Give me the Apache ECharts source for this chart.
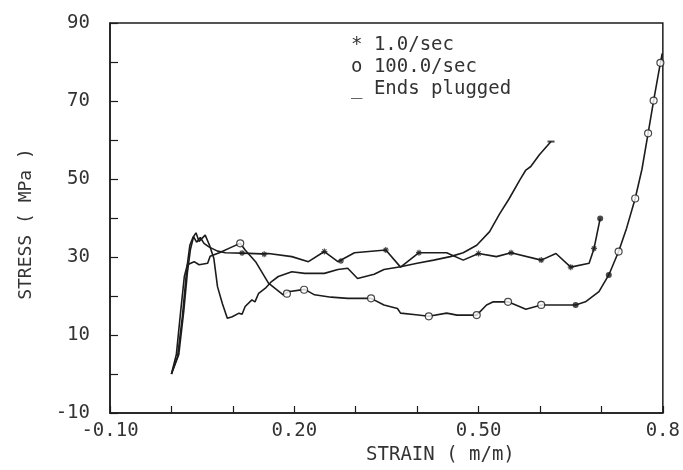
<!DOCTYPE html>
<html>
<head>
<meta charset="utf-8">
<script src="https://cdn.jsdelivr.net/npm/echarts@6/dist/echarts.min.js"></script>
<style>html,body{margin:0;padding:0;background:#fff;}#chart{width:683px;height:470px;}</style>
</head>
<body>
<div id="chart"></div>
<script>
// ---- data (strain m/m, stress MPa) ----
var seriesNames = ['1.0/sec', '100.0/sec', 'Ends plugged'];
var legendSymbols = ['*', 'o', '_'];
var xLabelValues = [-0.1, 0.2, 0.5, 0.8];
var xLabelTexts = ['-0.10', '0.20', '0.50', '0.8'];
var yLabelValues = [-10, 10, 30, 50, 70, 90];

var rate1 = [[0,0],[0.012,5],[0.02,16],[0.026,26],[0.031,32],[0.036,35.2],[0.041,33.8],[0.047,35],[0.053,33.5],[0.061,32.6],[0.075,31.5],[0.088,31.1],[0.115,31],[0.147,30.8],[0.158,30.9],[0.196,30.1],[0.223,28.8],[0.249,31.4],[0.271,28.8],[0.298,31.1],[0.349,31.8],[0.373,27.4],[0.403,31.1],[0.448,31.1],[0.475,29.2],[0.5,30.9],[0.529,30.1],[0.553,31.1],[0.602,29.2],[0.626,30.9],[0.65,27.4],[0.68,28.4],[0.688,32.2],[0.698,39.9]];
var rate100 = [[0,0],[0.008,5],[0.015,16],[0.021,25],[0.026,28],[0.037,28.8],[0.045,28],[0.059,28.4],[0.063,30.2],[0.077,31],[0.099,32.6],[0.112,33.5],[0.12,31.8],[0.137,28.8],[0.158,23.3],[0.182,20.3],[0.19,21.1],[0.217,21.7],[0.233,20.3],[0.26,19.7],[0.287,19.4],[0.325,19.4],[0.346,17.7],[0.368,16.8],[0.373,15.6],[0.398,15.2],[0.419,14.8],[0.448,15.6],[0.465,15.1],[0.497,15.1],[0.513,17.7],[0.524,18.5],[0.548,18.5],[0.577,16.6],[0.602,17.7],[0.658,17.7],[0.674,18.5],[0.696,21.1],[0.712,25.4],[0.728,31.4],[0.741,37.4],[0.755,45],[0.766,52.5],[0.776,61.7],[0.785,70.1],[0.796,79.8],[0.799,82.2]];
var plugged = [[0,0],[0.01,4.5],[0.018,15],[0.025,27],[0.03,33],[0.035,35],[0.04,36.2],[0.045,34],[0.055,35.6],[0.062,33],[0.069,29.7],[0.075,22.4],[0.083,18],[0.091,14.3],[0.099,14.7],[0.11,15.6],[0.115,15.3],[0.12,17.3],[0.131,19],[0.136,18.5],[0.142,20.7],[0.153,22],[0.163,23.7],[0.174,25],[0.196,26.2],[0.217,25.8],[0.233,25.8],[0.249,25.8],[0.271,26.8],[0.287,27.1],[0.303,24.5],[0.33,25.6],[0.346,26.8],[0.373,27.5],[0.4,28.4],[0.427,29.2],[0.454,30.1],[0.475,31.1],[0.497,33],[0.518,36.5],[0.534,41],[0.55,45],[0.567,49.7],[0.577,52.3],[0.585,53.2],[0.599,56.2],[0.618,59.6]];

var rate1Marks = [[0.115,31],[0.151,30.7],[0.249,31.4],[0.276,29],[0.349,31.8],[0.403,31.1],[0.5,30.9],[0.553,31.1],[0.602,29.2],[0.65,27.4],[0.688,32.2]];
var rate1EndMarks = [[0.698,39.9]];
var rate100Marks = [[0.112,33.5],[0.188,20.6],[0.216,21.6],[0.325,19.4],[0.419,14.8],[0.497,15.1],[0.548,18.5],[0.602,17.7],[0.728,31.4],[0.755,45],[0.776,61.7],[0.785,70.1],[0.796,79.8]];
var rate100FilledMarks = [[0.658,17.7],[0.712,25.4]];
var pluggedMarks = [[0.618,59.6]];

// ---- chart ----
var FONT = 'DejaVu Sans Mono';
var TXT = '#333';
var INK = '#1c1c1c';
var chart = echarts.init(document.getElementById('chart'), null, {renderer: 'canvas'});

function lineSeries(name, data) {
  return {name: name, type: 'line', data: data, showSymbol: false, symbol: 'none',
    lineStyle: {color: INK, width: 1.6}, itemStyle: {color: INK}, animation: false, z: 3};
}
function markSeries(name, data, symbol, size, filled) {
  return {name: name, type: 'scatter', data: data, symbol: symbol, symbolSize: size,
    itemStyle: filled ? {color: INK} : {color: '#fff', borderColor: INK, borderWidth: 1.2},
    animation: false, z: 4, silent: true};
}
var starPath = 'path://M5,0L5,10M0,5L10,5M1.5,1.5L8.5,8.5M8.5,1.5L1.5,8.5';

chart.setOption({
  backgroundColor: '#fff',
  animation: false,
  grid: {left: 110, right: 15, top: 23, bottom: 57, show: true, borderColor: INK, borderWidth: 1.5},
  legend: {
    data: seriesNames, orient: 'vertical', left: 340, top: 29, itemGap: 0,
    itemWidth: 0, itemHeight: 0, selectedMode: false,
    formatter: function (n) { return legendSymbols[seriesNames.indexOf(n)] + ' ' + n; },
    textStyle: {fontFamily: FONT, fontSize: 19, color: TXT, lineHeight: 22}
  },
  xAxis: {
    type: 'value', min: -0.1, max: 0.8, interval: 0.1,
    name: 'STRAIN ( m/m)', nameLocation: 'middle', nameGap: 32,
    nameTextStyle: {fontFamily: FONT, fontSize: 19, color: TXT, padding: [0, 0, 0, 108]},
    axisLine: {show: true, onZero: false, lineStyle: {color: INK, width: 1.5}},
    axisTick: {show: true, inside: true, length: 7, lineStyle: {color: INK, width: 1.2}},
    axisLabel: {margin: 9, fontFamily: FONT, fontSize: 19, color: TXT, showMinLabel: true, showMaxLabel: true,
      formatter: function (v) {
        for (var i = 0; i < xLabelValues.length; i++) if (Math.abs(v - xLabelValues[i]) < 1e-6) return xLabelTexts[i];
        return '';
      }},
    splitLine: {show: false}
  },
  yAxis: {
    type: 'value', min: -10, max: 90, interval: 10,
    name: 'STRESS ( MPa )', nameLocation: 'middle', nameGap: 75, nameRotate: 90,
    nameTextStyle: {fontFamily: FONT, fontSize: 18, color: TXT, padding: [0, 12, 0, 0]},
    axisLine: {show: true, onZero: false, lineStyle: {color: INK, width: 1.5}},
    axisTick: {show: true, inside: true, length: 8, lineStyle: {color: INK, width: 1.2}},
    axisLabel: {margin: 20, fontFamily: FONT, fontSize: 19, color: TXT, showMinLabel: true, showMaxLabel: true,
      formatter: function (v) {
        for (var i = 0; i < yLabelValues.length; i++) if (Math.abs(v - yLabelValues[i]) < 1e-6) return String(yLabelValues[i]);
        return '';
      }},
    splitLine: {show: false}
  },
  series: [
    lineSeries(seriesNames[0], rate1),
    lineSeries(seriesNames[1], rate100),
    lineSeries(seriesNames[2], plugged),
    markSeries('m1', rate1Marks, starPath, 6, false),
    markSeries('m1e', rate1EndMarks, 'circle', 6, true),
    markSeries('m100', rate100Marks, 'circle', 7, false),
    markSeries('m100f', rate100FilledMarks, 'circle', 6, true),
    markSeries('mp', pluggedMarks, 'rect', [7, 2], true)
  ]
});
</script>
</body>
</html>
